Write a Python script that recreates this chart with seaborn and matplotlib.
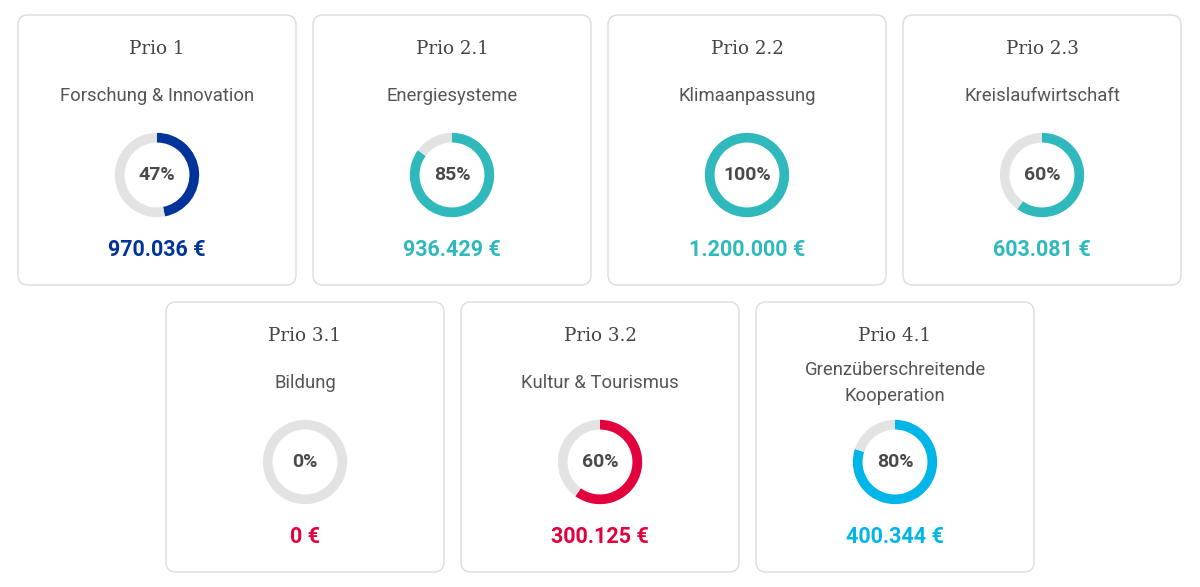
import matplotlib
matplotlib.use("Agg")
import matplotlib.pyplot as plt
import seaborn as sns
from matplotlib.patches import FancyBboxPatch

# chart data
prios = ["Prio 1", "Prio 2.1", "Prio 2.2", "Prio 2.3", "Prio 3.1", "Prio 3.2", "Prio 4.1"]
themes = ["Forschung & Innovation", "Energiesysteme", "Klimaanpassung",
          "Kreislaufwirtschaft", "Bildung", "Kultur & Tourismus",
          "Grenzüberschreitende\nKooperation"]
percents = [47, 85, 100, 60, 0, 60, 80]
amounts = [970036, 936429, 1200000, 603081, 0, 300125, 400344]
colors = ["#00349a", "#2fb9bc", "#2fb9bc", "#2fb9bc", "#e2003d", "#e2003d", "#00b5e8"]

sns.set_theme(style="white")
plt.rcParams["font.family"] = ["Roboto", "DejaVu Sans"]

W, H = 1200, 587
fig = plt.figure(figsize=(W / 100, H / 100), dpi=100)
fig.patch.set_facecolor("white")
bg = fig.add_axes([0, 0, 1, 1])
bg.set_xlim(0, W)
bg.set_ylim(H, 0)
bg.axis("off")

card_w, card_h = 278, 270
positions = [(18, 15), (313, 15), (608, 15), (903, 15),
             (166, 302), (461, 302), (756, 302)]
ring_r = 42


def euro(v):
    return f"{v:,}".replace(",", ".") + " €"


for i, (x0, y0) in enumerate(positions):
    cx = x0 + card_w / 2
    card = FancyBboxPatch((x0 + 10, y0 + 10), card_w - 20, card_h - 20,
                          boxstyle="round,pad=10", facecolor="white",
                          edgecolor="#dcdcdc", linewidth=1)
    bg.add_patch(card)

    bg.text(cx, y0 + 34, prios[i], ha="center", va="center", fontsize=13.2,
            color="#444444", family=["DejaVu Serif"])
    bg.text(cx, y0 + 81, themes[i], ha="center", va="center", fontsize=13.3,
            color="#555555", linespacing=1.6)
    bg.text(cx, y0 + 235, euro(amounts[i]), ha="center", va="center",
            fontsize=15.5, fontweight="bold", color=colors[i])

    # donut
    dcy = y0 + 160
    ax = fig.add_axes([(cx - ring_r - 1) / W, 1 - (dcy + ring_r + 1) / H,
                       (2 * ring_r + 2) / W, (2 * ring_r + 2) / H])
    p = percents[i]
    ax.pie([p, 100 - p], colors=[colors[i], "#e3e3e3"], startangle=90,
           counterclock=False, radius=1,
           wedgeprops=dict(width=0.23, linewidth=0))
    ax.set_xlim(-1.02, 1.02)
    ax.set_ylim(-1.02, 1.02)
    ax.set_aspect("equal")
    ax.axis("off")
    ax.text(0, 0, f"{p}%", ha="center", va="center", fontsize=14,
            fontweight="bold", color="#4a4a4a")

fig.savefig("out.png", dpi=100, facecolor="white")
